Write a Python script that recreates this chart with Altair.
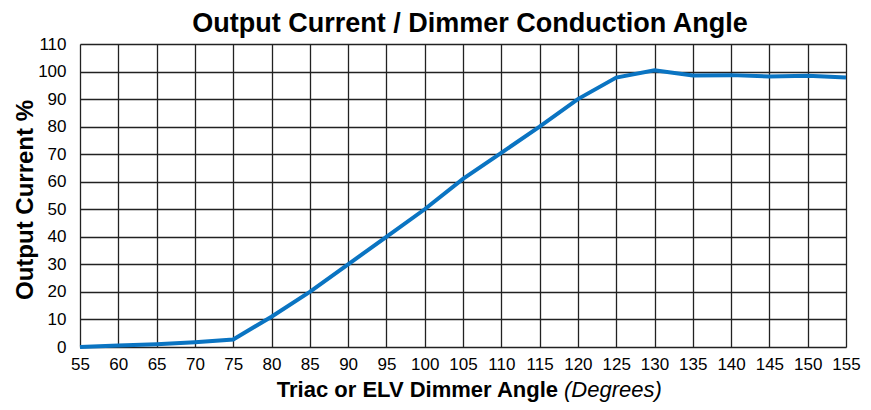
import altair as alt
import pandas as pd

angles = [55, 60, 65, 70, 75, 80, 85, 90, 95, 100, 105, 110, 115, 120, 125, 130, 135, 140, 145, 150, 155]
current = [0, 0.5, 1.0, 1.7, 2.7, 11, 20, 30, 40, 50, 61, 70.5, 80, 90, 97.8, 100.5, 98.6, 98.7, 98.2, 98.5, 97.8]
x_ticks = list(range(55, 160, 5))
y_ticks = list(range(0, 120, 10))

df = pd.DataFrame({"angle": angles, "current": current})

FONT = "Liberation Sans"
W, H = 766, 303

line = alt.Chart(df).mark_line(color="#0A74C2", strokeWidth=4, clip=False).encode(
    x=alt.X("angle:Q", scale=alt.Scale(domain=[55, 155], nice=False),
            axis=alt.Axis(values=x_ticks, title=None, labelFontSize=17, labelFont=FONT,
                          labelColor="black", labelPadding=9, ticks=False, domain=False,
                          grid=True, gridColor="#222222", gridWidth=1.3, gridOpacity=1,
                          labelFlush=False, labelOverlap=False)),
    y=alt.Y("current:Q", scale=alt.Scale(domain=[0, 110], nice=False),
            axis=alt.Axis(values=y_ticks, title=None, labelFontSize=17, labelFont=FONT,
                          labelColor="black", labelPadding=14, ticks=False, domain=False,
                          grid=True, gridColor="#222222", gridWidth=1.3, gridOpacity=1,
                          labelFlush=False, labelOverlap=False)),
)

def label(txt, **kw):
    return alt.Chart(pd.DataFrame({"t": [txt]})).mark_text(
        font=FONT, color="black", baseline="alphabetic", **kw
    ).encode(text="t:N")

title = label("Output Current / Dimmer Conduction Angle", fontSize=27, fontWeight="bold",
              align="center").encode(x=alt.value(390), y=alt.value(-12))
y_title = label("Output Current %", fontSize=24, fontWeight="bold", align="center",
                angle=270).encode(x=alt.value(-47), y=alt.value(156))
xt_bold = label("Triac or ELV Dimmer Angle", fontSize=22, fontWeight="bold",
                align="right").encode(x=alt.value(478), y=alt.value(353))
xt_it = label("(Degrees)", fontSize=22, fontStyle="italic",
              align="left").encode(x=alt.value(484), y=alt.value(353))

chart = alt.layer(line, title, y_title, xt_bold, xt_it).properties(
    width=W, height=H,
    autosize=alt.AutoSizeParams(type="none"),
    padding={"left": 72, "top": 36, "right": 17, "bottom": 55},
).configure_view(stroke="black", strokeWidth=2.5).configure(background="white")

chart.save("out.html", embed_options={"renderer": "svg", "actions": False})
